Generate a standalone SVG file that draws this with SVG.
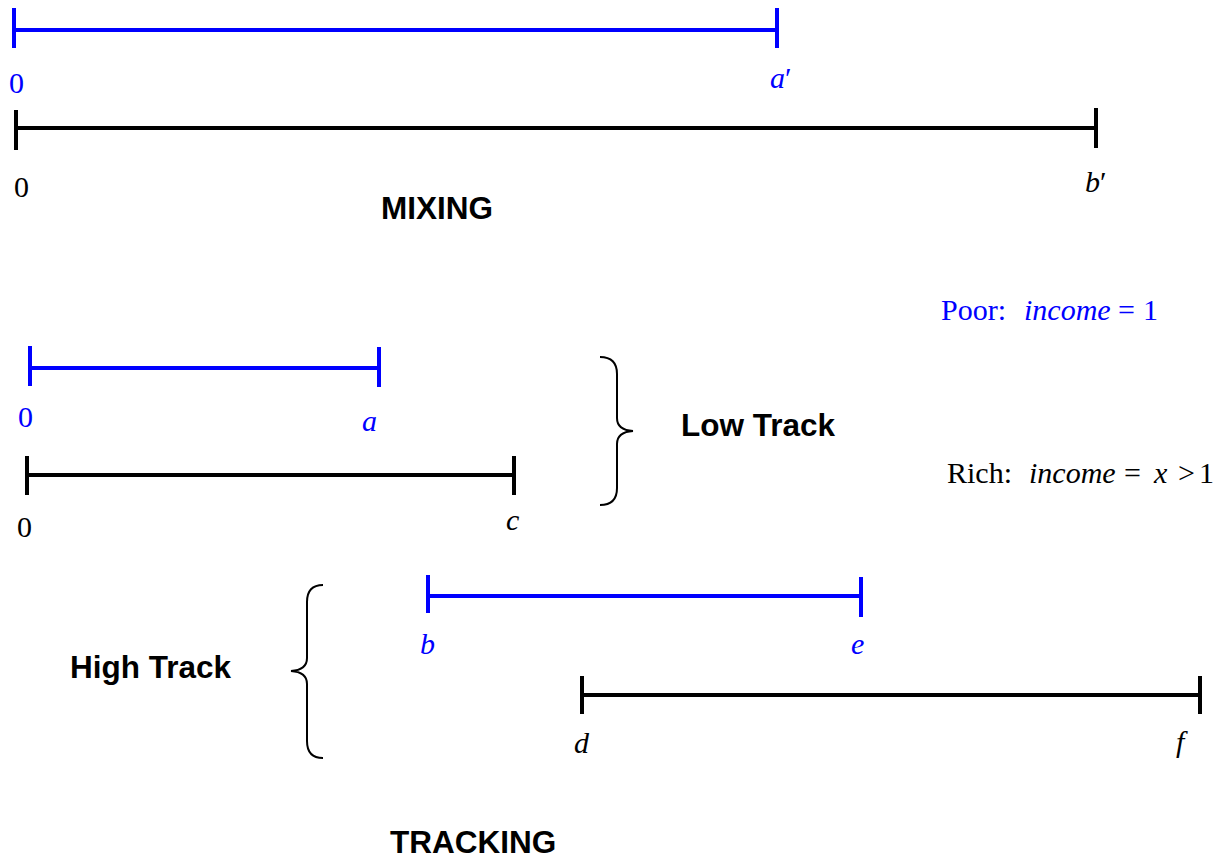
<svg xmlns="http://www.w3.org/2000/svg" width="1227" height="863" viewBox="0 0 1227 863">
<style>
.bl{stroke:#0000ff;stroke-width:4;fill:none}
.bk{stroke:#000;stroke-width:4;fill:none}
.br{stroke:#000;stroke-width:2;fill:none}
.num{font-family:"Liberation Serif","Times New Roman",serif;font-size:30px}
.it{font-family:"Liberation Serif","Times New Roman",serif;font-size:30px;font-style:italic}
.hd{font-family:"Liberation Sans",Arial,sans-serif;font-size:31.5px;font-weight:bold;fill:#000}
.blue{fill:#0000ff}
.black{fill:#000}
</style>
<rect width="1227" height="863" fill="#fff"/>
<g id="mixing-poor">
<path class="bl" d="M14,30H777M14,8V48M777,8V48"/>
<text class="num blue" x="9" y="93">0</text>
<text class="it blue" x="770" y="88">a<tspan font-style="normal">′</tspan></text>
</g>
<g id="mixing-rich">
<path class="bk" d="M16,128H1096M16,110V150M1096,108V148"/>
<text class="num black" x="14" y="197">0</text>
<text class="it black" x="1085" y="192">b<tspan font-style="normal">′</tspan></text>
</g>
<text id="mixing-label" class="hd" x="381" y="219">MIXING</text>
<g id="legend">
<text class="num blue" x="941" y="320">Poor:</text>
<text class="it blue" x="1024" y="320">income</text>
<text class="num blue" x="1118" y="320">=</text>
<text class="num blue" x="1143" y="320">1</text>
<text class="num black" x="947" y="483">Rich:</text>
<text class="it black" x="1029" y="483">income</text>
<text class="num black" x="1124" y="483">=</text>
<text class="it black" x="1154" y="483">x</text>
<text class="num black" x="1178" y="483">&gt;</text>
<text class="num black" x="1199" y="483">1</text>
</g>
<g id="low-poor">
<path class="bl" d="M30,368H379M30,346V386M379,347V387"/>
<text class="num blue" x="18" y="427">0</text>
<text class="it blue" x="362" y="431">a</text>
</g>
<g id="low-rich">
<path class="bk" d="M27,475H514M27,456V495M514,456V495"/>
<text class="num black" x="17" y="537">0</text>
<text class="it black" x="506" y="530">c</text>
</g>
<g id="low-track">
<path class="br" d="M600,357Q617,357 617,374L617,418Q617,430 633,431Q617,432 617,444L617,488Q617,505 600,505"/>
<text class="hd" x="681" y="436">Low Track</text>
</g>
<g id="high-track">
<path class="br" d="M323,585Q307,585 307,602L307,658Q307,670 291,671Q307,672 307,684L307,741Q307,758 323,758"/>
<text class="hd" x="70" y="678">High Track</text>
</g>
<g id="high-poor">
<path class="bl" d="M428,596H861M428,575V613M861,577V617"/>
<text class="it blue" x="420" y="654">b</text>
<text class="it blue" x="851" y="654">e</text>
</g>
<g id="high-rich">
<path class="bk" d="M582,695H1200M582,676V714M1200,676V714"/>
<text class="it black" x="574" y="753">d</text>
<text class="it black" x="1176" y="752">f</text>
</g>
<text id="tracking-label" class="hd" x="390" y="853">TRACKING</text>
<g id="connectors"/>
</svg>
